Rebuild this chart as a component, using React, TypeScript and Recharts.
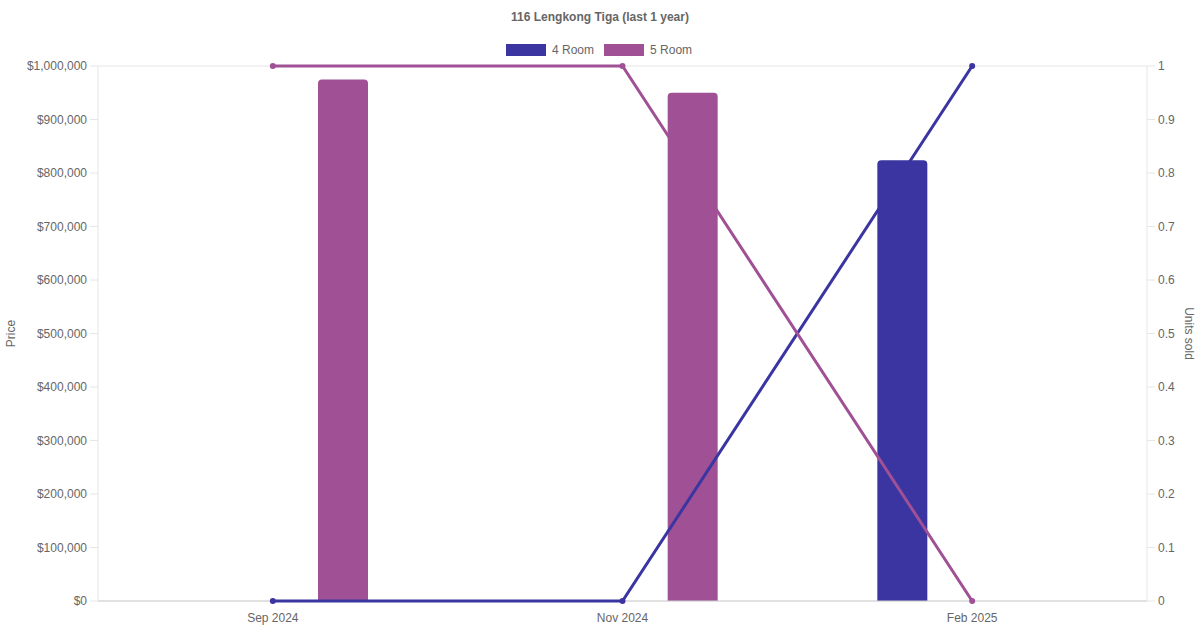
import React from "react";
import {
  ComposedChart,
  Bar,
  Line,
  XAxis,
  YAxis,
  CartesianGrid,
  ReferenceLine,
} from "recharts";

const months = ["Sep 2024", "Nov 2024", "Feb 2025"];
const price4Room: (number | null)[] = [null, null, 824000];
const price5Room: (number | null)[] = [975000, 950000, null];
const units4Room = [0, 0, 1];
const units5Room = [1, 1, 0];
const priceTicks = [0, 100000, 200000, 300000, 400000, 500000, 600000, 700000, 800000, 900000, 1000000];
const unitTicks = [0, 0.1, 0.2, 0.3, 0.4, 0.5, 0.6, 0.7, 0.8, 0.9, 1];

const COLOR_4 = "#3A35A0";
const COLOR_5 = "#A05195";
const FONT = "'Helvetica Neue', Helvetica, Arial, sans-serif";
const TEXT = "#666";

const data = months.map((m, i) => ({
  month: m,
  p4: price4Room[i],
  p5: price5Room[i],
  u4: units4Room[i],
  u5: units5Room[i],
}));

const fmtPrice = (v: number) => "$" + v.toLocaleString("en-US");
const fmtUnit = (v: number) => String(Math.round(v * 10) / 10);

export default function App() {
  return (
    <div
      style={{
        position: "absolute",
        left: 0,
        top: 0,
        width: 1200,
        height: 630,
        background: "#fff",
        fontFamily: FONT,
      }}
    >
      <div
        style={{
          position: "absolute",
          left: 0,
          top: 9,
          width: 1200,
          textAlign: "center",
          fontSize: 12,
          fontWeight: "bold",
          color: TEXT,
          lineHeight: "16px",
        }}
      >
        116 Lengkong Tiga (last 1 year)
      </div>
      <div
        style={{
          position: "absolute",
          left: 506,
          top: 42,
          height: 16,
          display: "flex",
          alignItems: "center",
          fontSize: 12,
          color: TEXT,
        }}
      >
        <span style={{ display: "inline-block", width: 40, height: 12, background: COLOR_4 }} />
        <span style={{ marginLeft: 6, marginRight: 10 }}>4 Room</span>
        <span style={{ display: "inline-block", width: 40, height: 12, background: COLOR_5 }} />
        <span style={{ marginLeft: 6 }}>5 Room</span>
      </div>
      <div style={{ position: "absolute", left: 0, top: 0 }}>
        <ComposedChart
          width={1200}
          height={630}
          data={data}
          margin={{ top: 66, right: 0, bottom: 0, left: 0 }}
          barGap={90}
        >
          <CartesianGrid vertical={false} stroke="#e6e6e6" strokeDasharray="" />
          <XAxis
            dataKey="month"
            height={29}
            tickLine={false}
            tickSize={8}
            tickMargin={4}
            axisLine={false}
            tick={{ fill: TEXT, fontSize: 12, fontFamily: FONT }}
            interval={0}
          />
          <YAxis
            yAxisId="left"
            orientation="left"
            width={98}
            domain={[0, 1000000]}
            ticks={priceTicks}
            tickFormatter={fmtPrice}
            tickSize={8}
            tickMargin={3}
            tickLine={{ stroke: "#e6e6e6" }}
            axisLine={{ stroke: "#e6e6e6" }}
            tick={{ fill: TEXT, fontSize: 12, fontFamily: FONT }}
            label={{
              value: "Price",
              angle: -90,
              position: "insideLeft",
              offset: 11,
              style: { fill: TEXT, fontSize: 12, fontFamily: FONT, textAnchor: "middle" },
            }}
          />
          <YAxis
            yAxisId="right"
            orientation="right"
            width={53}
            domain={[0, 1]}
            ticks={unitTicks}
            tickFormatter={fmtUnit}
            tickSize={8}
            tickMargin={3}
            tickLine={{ stroke: "#e6e6e6" }}
            axisLine={{ stroke: "#e6e6e6" }}
            tick={{ fill: TEXT, fontSize: 12, fontFamily: FONT }}
            label={{
              value: "Units sold",
              angle: 90,
              position: "insideRight",
              offset: 11,
              style: { fill: TEXT, fontSize: 12, fontFamily: FONT, textAnchor: "middle" },
            }}
          />
          <ReferenceLine yAxisId="left" y={0} stroke="#cfcfcf" strokeWidth={1} />
          <Bar
            yAxisId="left"
            dataKey="p4"
            name="4 Room"
            fill={COLOR_4}
            barSize={50}
            radius={[4, 4, 0, 0]}
            isAnimationActive={false}
          />
          <Bar
            yAxisId="left"
            dataKey="p5"
            name="5 Room"
            fill={COLOR_5}
            barSize={50}
            radius={[4, 4, 0, 0]}
            isAnimationActive={false}
          />
          <Line
            yAxisId="right"
            dataKey="u4"
            type="linear"
            stroke={COLOR_4}
            strokeWidth={3}
            dot={{ r: 3, fill: COLOR_4, stroke: COLOR_4, strokeWidth: 0 }}
            activeDot={false}
            isAnimationActive={false}
          />
          <Line
            yAxisId="right"
            dataKey="u5"
            type="linear"
            stroke={COLOR_5}
            strokeWidth={3}
            dot={{ r: 3, fill: COLOR_5, stroke: COLOR_5, strokeWidth: 0 }}
            activeDot={false}
            isAnimationActive={false}
          />
        </ComposedChart>
      </div>
    </div>
  );
}
